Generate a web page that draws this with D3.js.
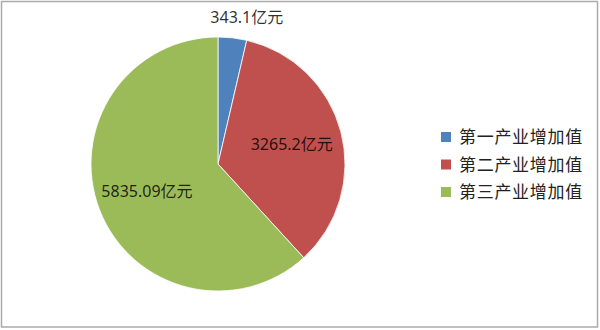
<!DOCTYPE html>
<html>
<head>
<meta charset="utf-8">
<script src="https://cdn.jsdelivr.net/npm/d3@7"></script>
<style>
  body { margin: 0; background: #fff; }
  svg { display: block; }
</style>
</head>
<body>
<div id="chart"></div>
<script>
// data
const categories = ["第一产业增加值", "第二产业增加值", "第三产业增加值"];
const values = [343.1, 3265.2, 5835.09];
const valueLabels = ["343.1亿元", "3265.2亿元", "5835.09亿元"];
const colors = ["#4f81bd", "#c0504d", "#9bbb59"];

const width = 600, height = 330;
const cx = 218, cy = 164, radius = 127;

const svg = d3.select("#chart")
    .append("svg")
    .attr("width", width)
    .attr("height", height)
    .style("font-family", "'Noto Sans', 'Noto Sans CJK SC', sans-serif");

// outer frame
svg.append("rect")
    .attr("x", 1.5)
    .attr("y", 1.5)
    .attr("width", width - 4)
    .attr("height", height - 4.5)
    .attr("fill", "none")
    .attr("stroke", "#ababab")
    .attr("stroke-width", 1.5);

const data = categories.map((c, i) => ({ name: c, value: values[i], label: valueLabels[i] }));

const color = d3.scaleOrdinal().domain(categories).range(colors);

const pie = d3.pie()
    .value(d => d.value)
    .sort(null);

const arcs = pie(data);

const arc = d3.arc().innerRadius(0).outerRadius(radius);
const inLabel = d3.arc().innerRadius(radius * 0.6).outerRadius(radius * 0.6);
const outLabel = d3.arc().innerRadius(radius * 1.16).outerRadius(radius * 1.16);

const g = svg.append("g")
    .attr("transform", `translate(${cx},${cy})`);

g.selectAll(".slice")
    .data(arcs)
    .join("path")
    .attr("class", "slice")
    .attr("d", arc)
    .attr("fill", d => color(d.data.name))
    .attr("stroke", "#fff")
    .attr("stroke-width", 0.8);

// small slice gets its label outside, the others inside
g.selectAll(".value-label")
    .data(arcs)
    .join("text")
    .attr("class", "value-label")
    .attr("transform", d => {
        const small = (d.endAngle - d.startAngle) < 0.5;
        const [x, y] = small ? outLabel.centroid(d) : inLabel.centroid(d);
        return `translate(${small ? x + 12 : x},${y})`;
    })
    .attr("text-anchor", "middle")
    .attr("dy", "0.35em")
    .style("font-size", "16px")
    .attr("fill", "#000")
    .attr("fill-opacity", 0.82)
    .text(d => d.data.label);

// legend
const legend = svg.append("g")
    .attr("transform", "translate(441,137)");

const rows = legend.selectAll(".legend-row")
    .data(categories)
    .join("g")
    .attr("class", "legend-row")
    .attr("transform", (d, i) => `translate(0,${i * 27.5})`);

rows.append("rect")
    .attr("x", 0)
    .attr("y", -5)
    .attr("width", 10)
    .attr("height", 10)
    .attr("fill", d => color(d));

rows.append("text")
    .attr("x", 18)
    .attr("dy", "0.36em")
    .style("font-size", "17px")
    .style("letter-spacing", "0.7px")
    .attr("fill", "#222")
    .text(d => d);
</script>
</body>
</html>
